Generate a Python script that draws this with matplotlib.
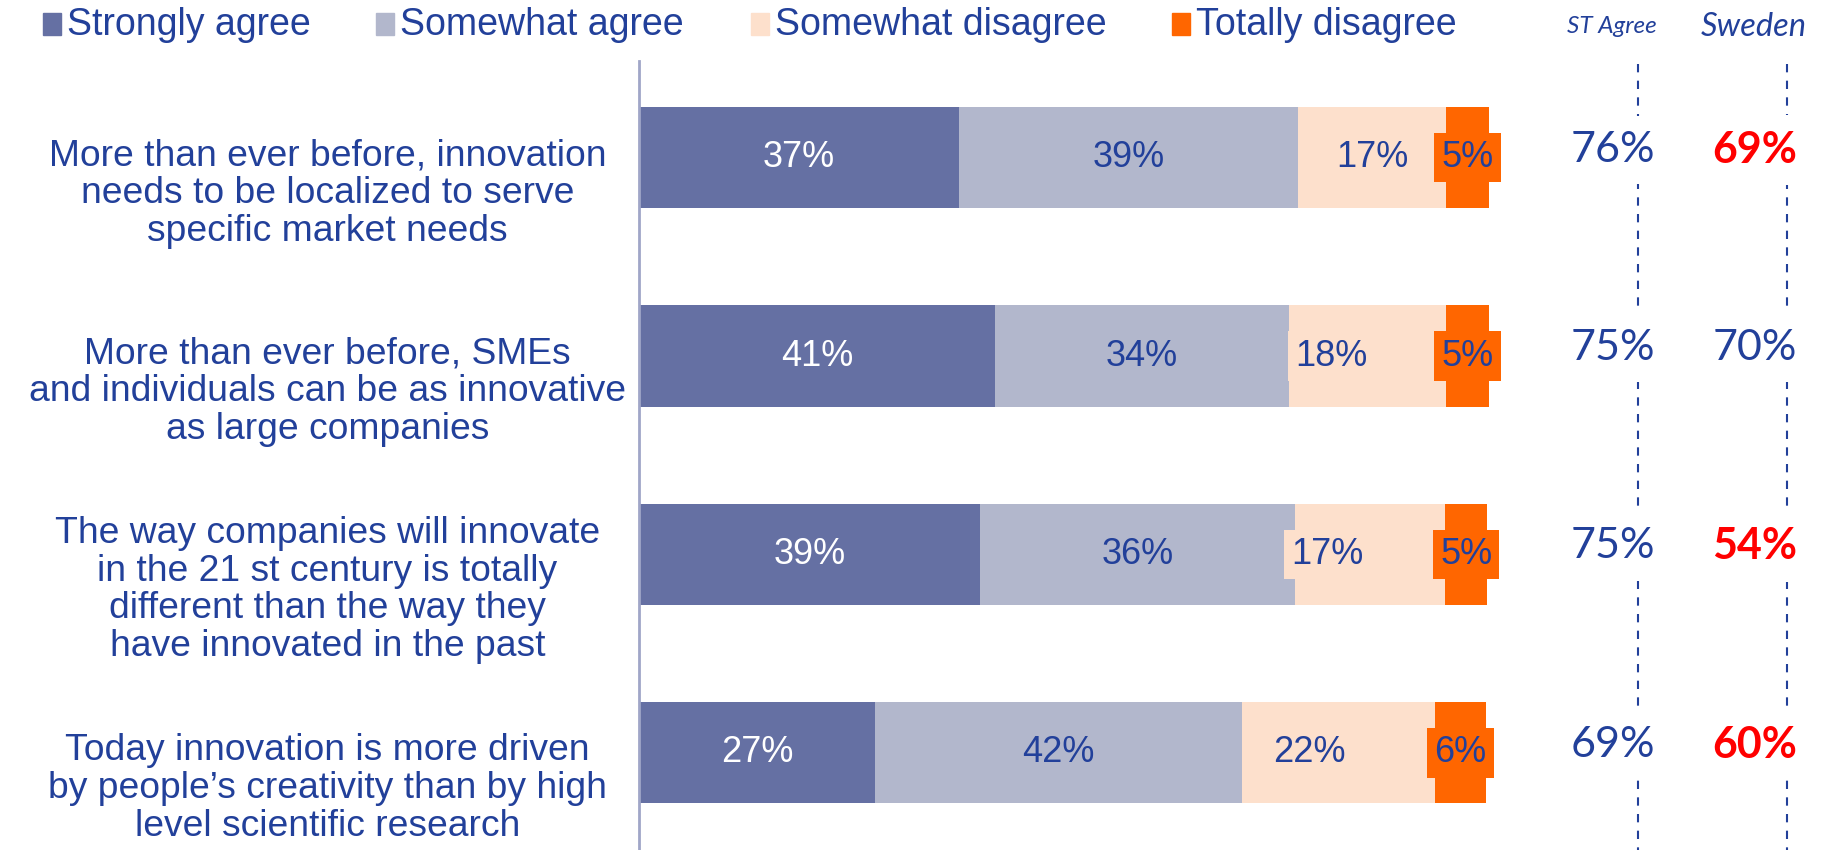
import matplotlib.pyplot as plt
from matplotlib.patches import Rectangle

# statements, top to bottom
statements = [
    "More than ever before, innovation\nneeds to be localized to serve\nspecific market needs",
    "More than ever before, SMEs\nand individuals can be as innovative\nas large companies",
    "The way companies will innovate\nin the 21 st century is totally\ndifferent than the way they\nhave innovated in the past",
    "Today innovation is more driven\nby people\u2019s creativity than by high\nlevel scientific research",
]
series_names = ["Strongly agree", "Somewhat agree", "Somewhat disagree", "Totally disagree"]
strongly_agree = [37.0, 41.1, 39.4, 27.3]
somewhat_agree = [39.2, 34.0, 36.4, 42.4]
somewhat_disagree = [17.1, 18.2, 17.4, 22.3]
totally_disagree = [4.9, 4.9, 4.8, 5.9]
st_agree = [76, 75, 75, 69]
sweden = [69, 70, 54, 60]
sweden_highlight = [True, False, True, True]

colors = ["#6570A3", "#B2B7CC", "#FDE0CC", "#FF6600"]
label_colors = ["white", "#22409A", "#22409A", "#22409A"]
blue = "#22409A"
# the "somewhat disagree" labels sit left of centre on some rows (points)
disagree_shift = [0, -26, -31, -21]

W, H = 1839, 850
fig = plt.figure(figsize=(W / 100, H / 100), dpi=100)
ax = fig.add_axes([639 / W, 0, 1 - 639 / W, (H - 61) / H])

series = [strongly_agree, somewhat_agree, somewhat_disagree, totally_disagree]
rows = range(len(statements))
left = [0.0] * len(statements)
for k, (vals, col, lc) in enumerate(zip(series, colors, label_colors)):
    ax.barh(list(rows), vals, left=left, height=0.51, color=col, edgecolor="none", zorder=2)
    for i in rows:
        dx = disagree_shift[i] if k == 2 else 0
        ax.annotate("%d%%" % round(vals[i]), (left[i] + vals[i] / 2, i), xytext=(dx, 0),
                    textcoords="offset points", ha="center", va="center",
                    fontsize=26, color=lc, family="Liberation Sans", zorder=3,
                    bbox=dict(boxstyle="square,pad=0.2", fc=col, ec="none"))
    left = [l + v for l, v in zip(left, vals)]

ax.set_xlim(0, 138.7)
ax.set_ylim(3.49, -0.487)
ax.set_xticks([])
ax.set_yticks([])
for s in ["top", "right", "bottom"]:
    ax.spines[s].set_visible(False)
ax.spines["left"].set_color("#A0A6C8")
ax.spines["left"].set_linewidth(2)

# statement labels
for i, s in enumerate(statements):
    ax.text(-36.0, i + 0.18, s, ha="center", va="center", fontsize=26.8, color=blue,
            family="Liberation Sans", linespacing=1.1, clip_on=False)

# right-hand columns
for xd, xt, xh, head, hsize, vals in [(115.5, 112.6, 112.5, "ST Agree", 17.5, st_agree),
                                       (132.7, 129.0, 128.8, "Sweden", 23.5, sweden)]:
    ax.plot([xd, xd], [-0.47, 3.49], color=blue, lw=1.5, ls=(0, (4, 4)), clip_on=False, zorder=1)
    ax.text(xh, -0.66, head, ha="center", va="center", fontsize=hsize, color=blue,
            family="Lato", style="italic", clip_on=False)
    for i, v in enumerate(vals):
        red = head == "Sweden" and sweden_highlight[i]
        ax.text(xt, i - 0.04, "%d%%" % v, ha="center", va="center", fontsize=31,
                color="#FF0000" if red else blue, weight="bold" if red else "normal",
                family="Lato", zorder=3,
                bbox=dict(boxstyle="square,pad=0.35", fc="white", ec="none"))

# legend across the top
sq_x = [43, 376, 751, 1172]
for name, col, x in zip(series_names, colors, sq_x):
    fig.patches.append(Rectangle((x / W, 1 - 35 / H), 18 / W, 22 / H, transform=fig.transFigure,
                                 color=col, figure=fig))
    fig.text((x + 24) / W, 1 - 25 / H, name, ha="left", va="center", fontsize=27, color=blue,
             family="Liberation Sans")

fig.savefig("out.png", dpi=100)
